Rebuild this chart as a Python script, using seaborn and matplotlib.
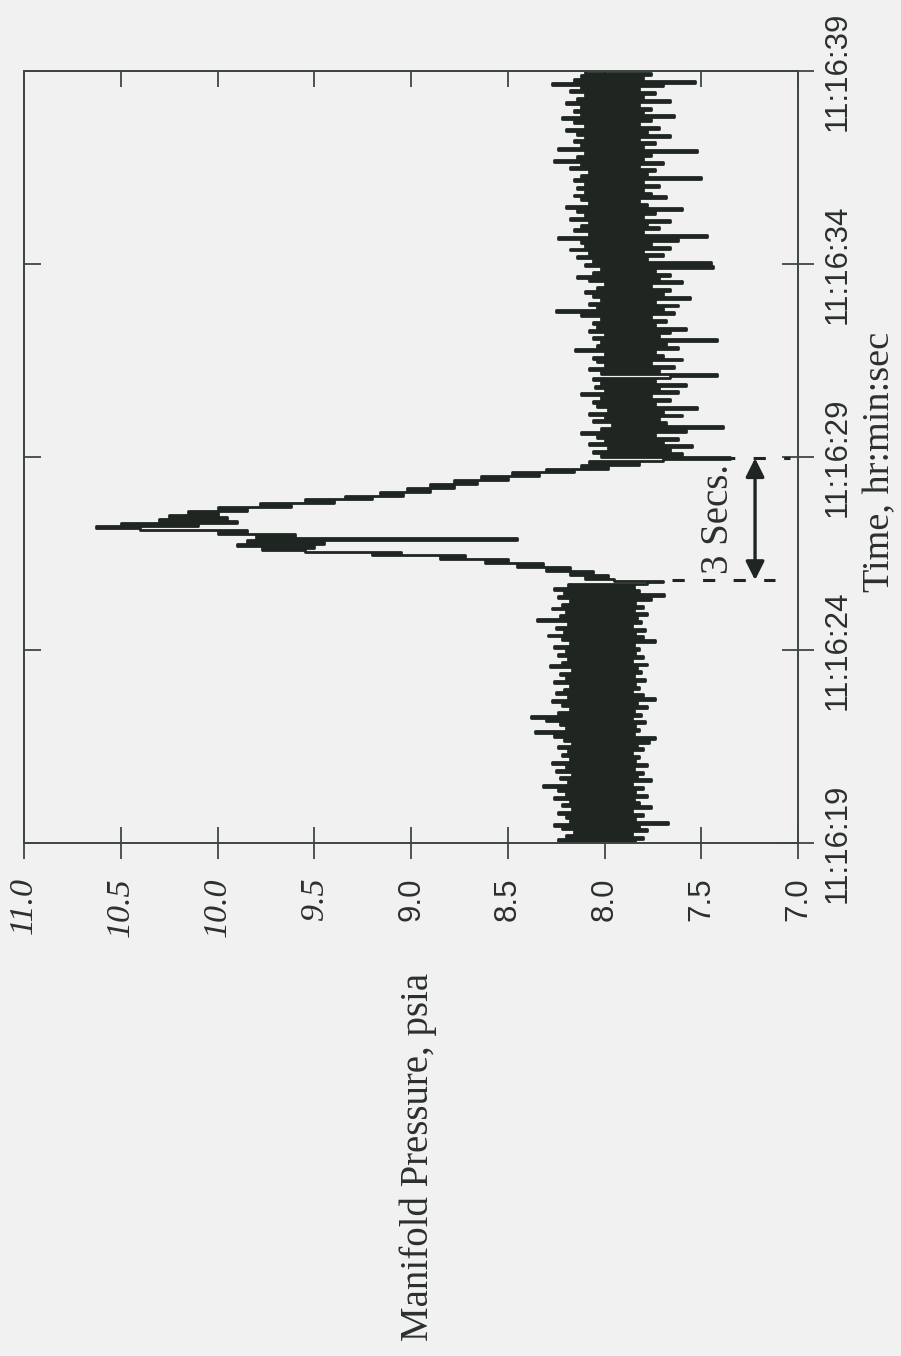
import numpy as np
import pandas as pd
import matplotlib
matplotlib.use("Agg")
import matplotlib.pyplot as plt
import seaborn as sns

# Manifold pressure record, one reading every 0.05 s starting at 11:16:19
# (each full row below covers one second)
sample_step_s = 0.05
pressure_before = [
    8.18, 7.84, 8.24, 7.80, 8.20, 7.86, 8.16, 7.78, 8.22, 7.82,
    8.26, 7.67, 8.18, 7.84, 8.20, 7.80, 8.24, 7.86, 8.17, 7.76,
    8.22, 7.82, 8.18, 7.85, 8.26, 7.78, 8.20, 7.84, 8.24, 7.80,
    8.32, 7.86, 8.19, 7.76, 8.23, 7.83, 8.17, 7.80, 8.25, 7.85,
    8.20, 7.78, 8.27, 7.84, 8.18, 7.82, 8.22, 7.86, 8.19, 7.80,
    8.24, 7.83, 8.17, 7.77, 8.21, 7.74, 8.26, 7.85, 8.36, 7.82,
    8.20, 7.84, 8.23, 7.79, 8.30, 7.86, 8.38, 7.81, 8.24, 7.85,
    8.18, 7.78, 8.22, 7.83, 8.27, 7.74, 8.19, 7.80, 8.25, 7.86,
    8.21, 7.82, 8.18, 7.84, 8.26, 7.79, 8.20, 7.85, 8.23, 7.81,
    8.17, 7.83, 8.28, 7.78, 8.22, 7.86, 8.19, 7.80, 8.24, 7.84,
    8.20, 7.82, 8.26, 7.85, 8.18, 7.74, 8.22, 7.80, 8.29, 7.84,
    8.21, 7.79, 8.25, 7.86, 8.19, 7.81, 8.35, 7.83, 8.23, 7.78,
    8.20, 7.85, 8.27, 7.80, 8.22, 7.84, 8.18, 7.76, 8.24, 7.69,
    8.21, 7.82, 8.26, 7.85, 8.19, 7.78, 7.70,
]
pressure_pulse = [
    # rise
    7.95, 8.10, 7.98, 8.18, 8.06, 8.30, 8.18, 8.45, 8.32, 8.62,
    8.50, 8.85, 8.72, 9.20, 9.05, 9.55, 9.77,
    # peak
    9.50, 9.90, 9.45, 9.85, 8.45, 9.80, 9.60, 10.00, 9.85, 10.40,
    10.63, 10.10, 10.50, 9.90, 10.30, 9.95, 10.25, 10.00,
    # decay
    10.15, 9.85, 10.00, 9.62, 9.78, 9.40, 9.55, 9.20, 9.34, 9.04,
    9.16, 8.90, 9.02, 8.78, 8.90, 8.66, 8.78, 8.50, 8.64, 8.34,
    8.48, 8.16, 8.30, 7.98, 8.12, 7.82, 8.08,
]
pressure_after = [
    7.70,
    7.35, 8.02, 7.60, 8.06, 7.66, 7.98, 7.55, 8.08, 7.70, 8.00,
    7.62, 8.04, 7.74, 8.12, 7.58, 8.02, 7.39, 7.96, 7.68, 8.06,
    7.72, 8.00, 7.60, 8.08, 7.70, 7.98, 7.52, 8.04, 7.74, 8.06,
    7.66, 8.02, 7.76, 8.12, 7.62, 8.00, 7.72, 8.05, 7.58, 8.02,
    7.74, 8.06, 7.66, 7.42, 8.02, 7.72, 8.08, 7.64, 8.00, 7.76,
    8.04, 7.60, 8.06, 7.70, 8.00, 7.74, 8.15, 7.62, 8.04, 7.68,
    8.02, 7.42, 8.06, 7.72, 8.00, 7.66, 8.08, 7.58, 8.04, 7.74,
    8.06, 7.68, 8.02, 7.76, 8.12, 7.64, 8.25, 7.70, 8.04, 7.62,
    8.08, 7.74, 8.02, 7.56, 8.06, 7.70, 8.10, 7.66, 8.04, 7.76,
    8.00, 7.60, 8.08, 7.72, 8.14, 7.66, 8.06, 7.74, 8.02, 7.44,
    8.10, 7.45, 8.06, 7.78, 8.14, 7.70, 8.08, 7.80, 8.18, 7.66,
    8.10, 7.76, 8.12, 7.62, 8.24, 7.47, 8.08, 7.80, 8.16, 7.72,
    8.12, 7.78, 8.08, 7.66, 8.18, 7.80, 8.10, 7.74, 8.14, 7.60,
    8.20, 7.78, 8.08, 7.82, 8.12, 7.68, 8.16, 7.76, 8.10, 7.80,
    8.14, 7.72, 8.10, 7.80, 8.16, 7.50, 8.12, 7.78, 8.08, 7.74,
    8.18, 7.82, 8.12, 7.70, 8.26, 7.80, 8.14, 7.76, 8.10, 7.52,
    8.24, 7.80, 8.12, 7.74, 8.16, 7.82, 8.10, 7.66, 8.14, 7.78,
    8.20, 7.72, 8.10, 7.82, 8.16, 7.76, 8.22, 7.64, 8.12, 7.80,
    8.16, 7.76, 8.12, 7.82, 8.20, 7.66, 8.14, 7.80, 8.10, 7.74,
    8.18, 7.82, 8.12, 7.70, 8.27, 7.53, 8.16, 7.80, 8.12, 7.76,
    8.10,
]

pressure_ticks = [11.0, 10.5, 10.0, 9.5, 9.0, 8.5, 8.0, 7.5, 7.0]
pressure_tick_labels = ["11.0", "10.5", "10.0", "9.5", "9.0", "8.5", "8.0", "7.5", "7.0"]
time_ticks_s = [0, 5, 10, 15, 20]
time_tick_labels = ["11:16:19", "11:16:24", "11:16:29", "11:16:34", "11:16:39"]

event_start_s = 6.81
event_end_s = 9.97
event_label = "3 Secs."

x_label = "Manifold Pressure, psia"
y_label = "Time, hr:min:sec"

# ---------------------------------------------------------------- styling
bg = "#f1f1f1"
ink = "#1f2622"
frame = "#3e4642"
text_c = "#2b302d"

sns.set_theme(style="ticks")
plt.rcParams["font.family"] = ["Liberation Sans", "DejaVu Sans"]
plt.rcParams["axes.edgecolor"] = frame
plt.rcParams["axes.linewidth"] = 1.4

fig = plt.figure(figsize=(9.01, 13.56), dpi=100, facecolor=bg)
ax = fig.add_axes([0.02664, 0.37832, 0.85905, 0.56932], facecolor=bg)

pressure_psia = pressure_before + pressure_pulse + pressure_after
time_s = np.arange(len(pressure_psia)) * sample_step_s
df = pd.DataFrame({"time_s": time_s, "pressure": pressure_psia})

sns.lineplot(data=df, x="pressure", y="time_s", sort=False, estimator=None,
             drawstyle="steps-post", color=ink, linewidth=2.0, ax=ax)

ax.set_xlim(11.0, 7.0)
ax.set_ylim(0, 20)

# pressure axis along the bottom, labels turned on their side
ax.set_xticks(pressure_ticks)
ax.set_xticklabels(pressure_tick_labels, rotation=90)
serif_labels = {"11.0", "10.5", "10.0", "9.5"}
for lbl in ax.get_xticklabels():
    if lbl.get_text() in serif_labels:
        lbl.set_fontfamily(["Liberation Serif", "DejaVu Serif"])
        lbl.set_fontstyle("italic")
        lbl.set_fontsize(24.5)
    else:
        lbl.set_fontfamily(["Liberation Sans", "DejaVu Sans"])
        lbl.set_fontsize(22.5)
    lbl.set_color(text_c)
ax.tick_params(axis="x", bottom=True, top=False, direction="inout",
               length=23, width=1.3, color=frame, pad=13)

# time axis on the right
ax.yaxis.tick_right()
ax.set_yticks(time_ticks_s)
ax.set_yticklabels(time_tick_labels, rotation=90, fontsize=22.5, color=text_c)
for lbl in ax.get_yticklabels():
    lbl.set_verticalalignment("center")
ax.tick_params(axis="y", right=True, left=False, direction="inout",
               length=23, width=1.3, color=frame, pad=6)

# inward ticks on the opposite edges
top = ax.secondary_xaxis("top")
top.set_xticks(pressure_ticks)
top.tick_params(axis="x", direction="in", length=11.5, width=1.3,
                color=frame, labeltop=False)
top.spines["top"].set_color(frame)
left = ax.secondary_yaxis("left")
left.set_yticks(time_ticks_s)
left.tick_params(axis="y", direction="in", length=12, width=1.3,
                 color=frame, labelleft=False)
left.spines["left"].set_color(frame)

for s in ax.spines.values():
    s.set_color(frame)
    s.set_linewidth(1.4)

# axis titles
ax.set_xlabel(x_label, rotation=90, fontsize=28, color=text_c,
              fontfamily=["Liberation Serif", "DejaVu Serif"])
ax.xaxis.label.set_verticalalignment("top")
ax.xaxis.label.set_horizontalalignment("center")
ax.xaxis.set_label_coords(0.509, -0.168)

ax.yaxis.set_label_position("right")
ax.set_ylabel(y_label, fontsize=27.5, color=text_c,
              fontfamily=["Liberation Serif", "DejaVu Serif"])
ax.yaxis.label.set_rotation(90)
ax.yaxis.label.set_rotation_mode("default")
ax.yaxis.label.set_verticalalignment("center")
ax.yaxis.label.set_horizontalalignment("center")
ax.yaxis.set_label_coords(1.106, 0.4935)

# duration marker for the pulse
ax.plot([7.55, 7.04], [event_end_s, event_end_s], color=ink, lw=2.2,
        dashes=(4, 6), solid_capstyle="butt")
ax.plot([7.65, 7.12], [event_start_s, event_start_s], color=ink, lw=2.2,
        dashes=(4, 6), solid_capstyle="butt")
ax.annotate("", xy=(7.222, event_end_s), xytext=(7.222, event_start_s),
            arrowprops=dict(arrowstyle="<|-|>", color=ink, lw=2.4,
                            mutation_scale=28, shrinkA=0, shrinkB=0))
ax.text(7.41, (event_start_s + event_end_s) / 2, event_label, rotation=90,
        ha="center", va="center", fontsize=28, color=text_c,
        fontfamily=["Liberation Serif", "DejaVu Serif"])

fig.savefig("out.png", dpi=100, facecolor=bg)
